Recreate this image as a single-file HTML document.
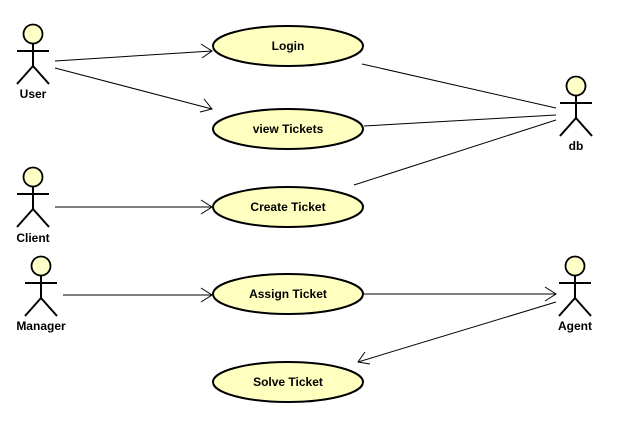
<!DOCTYPE html>
<html><head><style>body{margin:0;background:#fff}svg{display:block}</style></head><body>
<svg width="624" height="439" xmlns="http://www.w3.org/2000/svg" font-family="Liberation Sans, sans-serif" font-weight="bold" font-size="12">
<defs>
<g id="act" stroke="#000" stroke-width="2" fill="none">
<circle cx="0" cy="0" r="9.5" fill="#ffffc8" stroke-width="1.8"/>
<line x1="0" y1="9.5" x2="0" y2="32"/>
<line x1="-16" y1="17" x2="16" y2="17"/>
<line x1="0" y1="32" x2="-16" y2="50"/>
<line x1="0" y1="32" x2="16" y2="50"/>
</g>
</defs>
<use href="#act" x="33" y="34"/>
<use href="#act" x="33" y="177"/>
<use href="#act" x="41" y="266"/>
<use href="#act" x="576" y="86"/>
<use href="#act" x="575" y="266"/>
<g text-anchor="middle" fill="#000">
<text x="33" y="98">User</text>
<text x="33" y="242">Client</text>
<text x="41" y="330">Manager</text>
<text x="576" y="150">db</text>
<text x="575" y="330">Agent</text>
</g>
<g fill="#ffffc0" stroke="#000" stroke-width="2">
<ellipse cx="288" cy="46" rx="75" ry="20"/>
<ellipse cx="288" cy="129" rx="75" ry="20"/>
<ellipse cx="288" cy="207" rx="75" ry="20"/>
<ellipse cx="288" cy="294" rx="75" ry="20"/>
<ellipse cx="288" cy="382" rx="75" ry="20"/>
</g>
<g text-anchor="middle" fill="#000">
<text x="288" y="50">Login</text>
<text x="288" y="133">view Tickets</text>
<text x="288" y="211">Create Ticket</text>
<text x="288" y="298">Assign Ticket</text>
<text x="288" y="386">Solve Ticket</text>
</g>
<g stroke="#000" stroke-width="1" fill="none">
<line x1="55" y1="61" x2="212" y2="51"/>
<polyline points="201,44 212,51 202,58"/>
<line x1="55" y1="68" x2="212" y2="109"/>
<polyline points="204,99 212,109 200,112"/>
<line x1="55" y1="207" x2="212" y2="207"/>
<polyline points="201,200 212,207 201,214"/>
<line x1="63" y1="295" x2="212" y2="295"/>
<polyline points="201,288 212,295 201,302"/>
<line x1="364" y1="294" x2="556" y2="294"/>
<polyline points="545,287 556,294 545,301"/>
<line x1="556" y1="302" x2="358" y2="362"/>
<polyline points="365,352 358,362 370,364"/>
<line x1="362" y1="64" x2="556" y2="108"/>
<line x1="364" y1="126" x2="556" y2="115"/>
<line x1="354" y1="185" x2="556" y2="120"/>
</g>
</svg>
</body></html>
